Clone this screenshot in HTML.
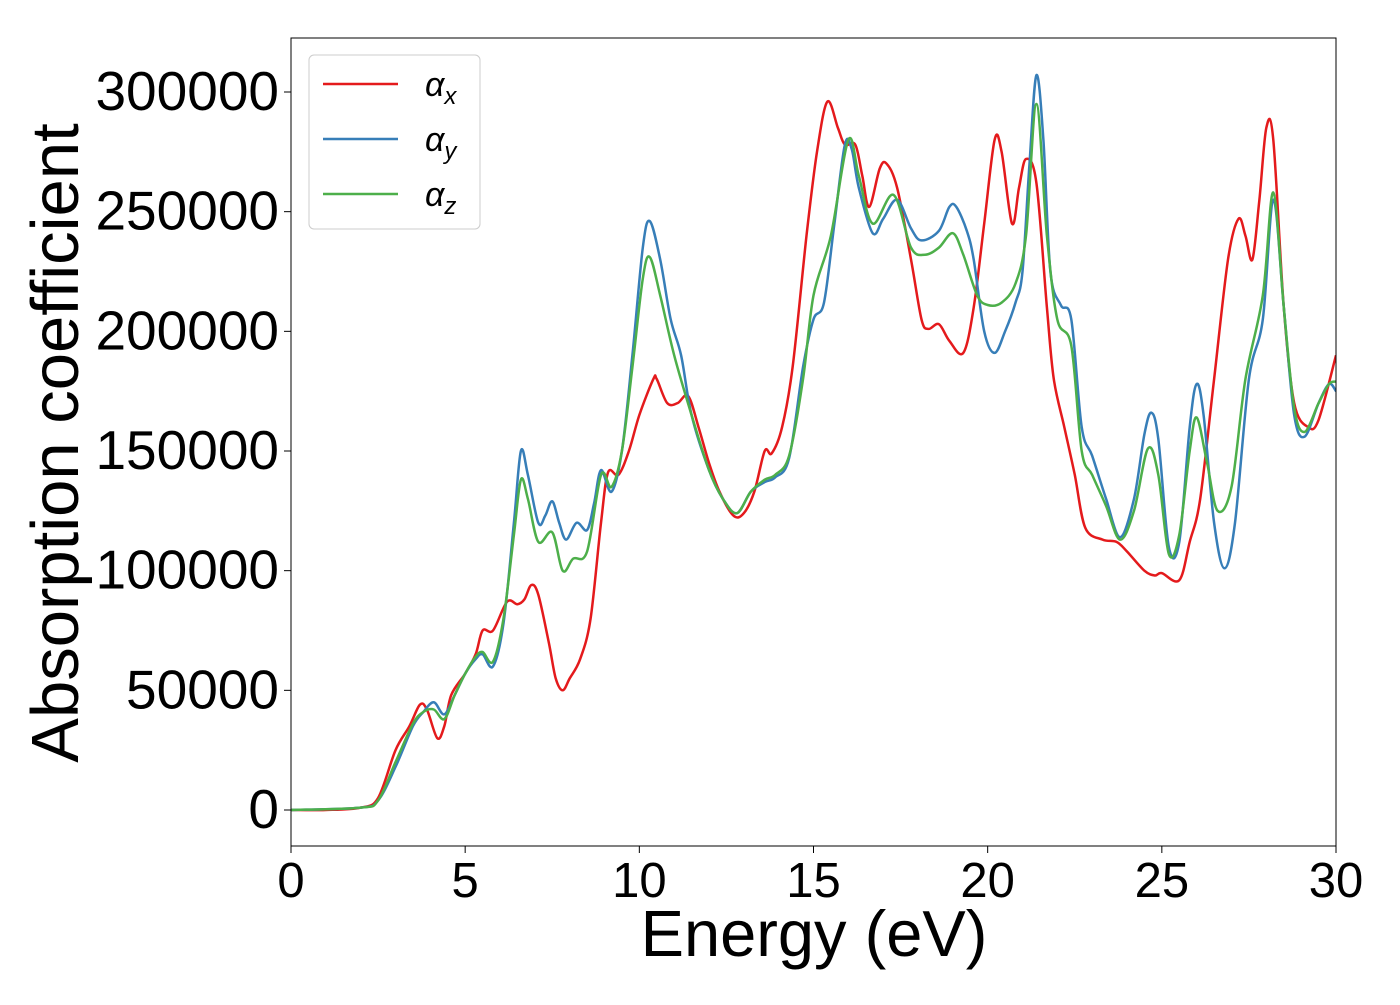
<!DOCTYPE html>
<html><head><meta charset="utf-8"><style>
body{margin:0;background:#fff;}
svg text{font-family:"Liberation Sans","DejaVu Sans",sans-serif;fill:#000;}
</style></head><body>
<svg id="chart" width="1400" height="1000" xmlns="http://www.w3.org/2000/svg">
<rect x="0" y="0" width="1400" height="1000" fill="#fff"/>
<g id="plot"></g>
<g id="axes"></g>
</svg>
<script>
const xTicks=[0,5,10,15,20,25,30];
const yTicks=[0,50000,100000,150000,200000,250000,300000];
const seriesNames=["x","y","z"];
const redE=[0,1,2,2.5,3,3.4,3.7,3.9,4.2,4.4,4.6,5,5.3,5.5,5.8,6.2,6.5,6.7,6.9,7.1,7.4,7.6,7.8,8.0,8.3,8.6,8.9,9.1,9.4,9.7,10,10.4,10.5,10.8,11.1,11.4,11.7,12,12.3,12.7,13,13.3,13.6,13.8,14.1,14.4,14.8,15.1,15.4,15.7,15.9,16.2,16.4,16.6,16.9,17.1,17.4,17.8,18.1,18.3,18.6,18.9,19.3,19.6,19.9,20.2,20.4,20.7,20.9,21.1,21.4,21.7,21.9,22.2,22.5,22.8,23.3,23.7,24,24.5,24.8,25,25.5,25.8,26.1,26.5,26.9,27.2,27.4,27.6,27.8,28.0,28.2,28.5,28.8,29.2,29.5,30];
const redV=[0,0,1000,5000,25000,35000,44000,42000,30000,35000,48000,57000,65000,75000,75000,87000,86000,88000,94000,90000,70000,55000,50000,55000,63000,80000,120000,141000,140000,150000,165000,180000,180000,170000,170000,173000,160000,145000,133000,123000,124000,133000,150000,149000,160000,185000,240000,275000,296000,285000,278000,278000,265000,252000,268000,270000,260000,230000,205000,201000,203000,196000,191000,210000,245000,280000,275000,245000,260000,272000,262000,210000,180000,160000,140000,118000,113000,112000,108000,100000,98000,99000,96000,112000,130000,180000,230000,247000,240000,230000,255000,285000,280000,210000,170000,160000,163000,190000];
const blueE=[0,2,2.5,3,3.5,3.8,4.1,4.4,4.7,5.0,5.3,5.5,5.8,6.1,6.4,6.6,6.8,7.1,7.3,7.5,7.7,7.9,8.2,8.5,8.7,8.9,9.2,9.5,9.8,10.1,10.3,10.6,10.9,11.2,11.5,12,12.4,12.8,13.2,13.6,13.9,14.3,14.7,15,15.3,15.6,15.9,16.1,16.3,16.7,17.0,17.4,17.8,18.1,18.6,18.9,19.1,19.4,19.6,19.9,20.2,20.5,20.8,21.0,21.2,21.4,21.6,21.8,22.1,22.4,22.7,23.0,23.4,23.8,24.2,24.5,24.7,24.9,25.2,25.5,25.8,26.0,26.2,26.5,26.8,27.1,27.5,27.9,28.2,28.5,28.8,29.1,29.5,29.8,30];
const blueV=[0,1000,4000,18000,35000,41000,45000,40000,48000,57000,63000,65000,60000,78000,120000,150000,140000,120000,123000,129000,120000,113000,120000,117000,128000,142000,133000,150000,190000,235000,246000,230000,205000,190000,165000,142000,130000,124000,133000,137000,139000,147000,185000,205000,212000,245000,278000,276000,260000,241000,247000,255000,243000,238000,242000,252000,252000,242000,230000,200000,191000,200000,212000,225000,270000,307000,280000,225000,211000,205000,160000,148000,130000,114000,130000,157000,166000,155000,110000,112000,160000,178000,165000,120000,101000,120000,180000,205000,255000,210000,165000,156000,170000,178000,175000];
const greenE=[0,2,2.5,3,3.5,3.8,4.1,4.4,4.7,5.0,5.3,5.5,5.8,6.1,6.4,6.6,6.8,7.1,7.5,7.8,8.1,8.5,8.9,9.2,9.5,9.8,10.1,10.3,10.6,11,11.5,12,12.4,12.8,13.2,13.6,13.9,14.3,14.7,15,15.5,16,16.3,16.7,17.3,17.8,18.2,18.6,19,19.3,19.7,20.0,20.4,20.8,21.1,21.4,21.7,22.0,22.4,22.7,23.0,23.4,23.8,24.2,24.6,24.9,25.2,25.5,25.8,26.0,26.3,26.6,27,27.4,27.9,28.2,28.5,28.8,29.1,29.5,29.8,30];
const greenV=[0,1000,4000,20000,36000,41000,42000,38000,48000,57000,64000,66000,62000,80000,115000,138000,130000,112000,116000,100000,105000,108000,140000,135000,150000,185000,222000,231000,215000,190000,165000,142000,130000,124000,133000,138000,140000,148000,180000,215000,240000,280000,265000,245000,257000,235000,232000,235000,241000,232000,215000,211000,212000,220000,240000,295000,240000,205000,194000,150000,140000,127000,113000,125000,151000,140000,107000,115000,150000,164000,145000,125000,135000,180000,215000,258000,210000,168000,158000,170000,178000,179000];
const colors=["#e41a1c","#377eb8","#4daf4a"];
const L=291,R=1336,T=38,B=846;
const xs=e=>L+(e-0)/(30-0)*(R-L);
const ys=v=>810-v*(810-92)/300000;
const NS="http://www.w3.org/2000/svg";
function mk(tag,attrs,parent){const el=document.createElementNS(NS,tag);for(const k in attrs)el.setAttribute(k,attrs[k]);parent.appendChild(el);return el;}
function smoothPath(E,V){
  const p=E.map((e,i)=>[xs(e),ys(V[i])]);
  let d="M"+p[0][0].toFixed(1)+","+p[0][1].toFixed(1);
  for(let i=0;i<p.length-1;i++){
    const p0=p[Math.max(0,i-1)],p1=p[i],p2=p[i+1],p3=p[Math.min(p.length-1,i+2)];
    const c1=[p1[0]+(p2[0]-p0[0])/6,p1[1]+(p2[1]-p0[1])/6];
    const c2=[p2[0]-(p3[0]-p1[0])/6,p2[1]-(p3[1]-p1[1])/6];
    d+=" C"+c1[0].toFixed(1)+","+c1[1].toFixed(1)+" "+c2[0].toFixed(1)+","+c2[1].toFixed(1)+" "+p2[0].toFixed(1)+","+p2[1].toFixed(1);
  }
  return d;
}
const plot=document.getElementById("plot");
const axes=document.getElementById("axes");
mk("clipPath",{id:"clip"},plot);
mk("rect",{x:L,y:T,width:R-L,height:B-T},document.getElementById("clip"));
const data=[[redE,redV],[blueE,blueV],[greenE,greenV]];
data.forEach((s,i)=>{
  const el=mk("path",{d:smoothPath(s[0],s[1]),fill:"none",stroke:colors[i],"stroke-width":2.5,"clip-path":"url(#clip)"},plot);
  
  
});
const frame=mk("rect",{x:L,y:T,width:R-L,height:B-T,fill:"none",stroke:"#000","stroke-width":1},axes);


xTicks.forEach(t=>{
  const x=xs(t);
  mk("line",{x1:x,x2:x,y1:B,y2:B+7,stroke:"#000","stroke-width":1},axes);
  const tx=mk("text",{x:x,y:B+51,"text-anchor":"middle","font-size":49},axes);
  tx.textContent=t;
  
  
});
yTicks.forEach(t=>{
  const y=ys(t);
  mk("line",{x1:L-7,x2:L,y1:y,y2:y,stroke:"#000","stroke-width":1},axes);
  const tx=mk("text",{x:L-12,y:y+18,"text-anchor":"end","font-size":55},axes);
  tx.textContent=t;
  
  
});
const xl=mk("text",{x:814,y:956,"text-anchor":"middle","font-size":65},axes);
xl.textContent="Energy (eV)";


const yl=mk("text",{x:0,y:0,"text-anchor":"middle","font-size":67,transform:"translate(78,443) rotate(-90)"},axes);
yl.textContent="Absorption coefficient";


const lg=mk("g",{},axes);


mk("rect",{x:309,y:55,width:171,height:174,rx:5,fill:"#fff",stroke:"#ccc","stroke-width":1},lg);
seriesNames.forEach((n,i)=>{
  const y=84+i*55;
  const ln=mk("line",{x1:323,x2:398,y1:y,y2:y,stroke:colors[i],"stroke-width":2.5},lg);
  
  
  const t=mk("text",{x:425,y:y+12,"font-size":34,"font-style":"italic"},lg);
  
  
  t.textContent="α";
  const sub=mk("tspan",{"font-size":24,dy:8},t);
  sub.textContent=n;
});
</script>
</body></html>
